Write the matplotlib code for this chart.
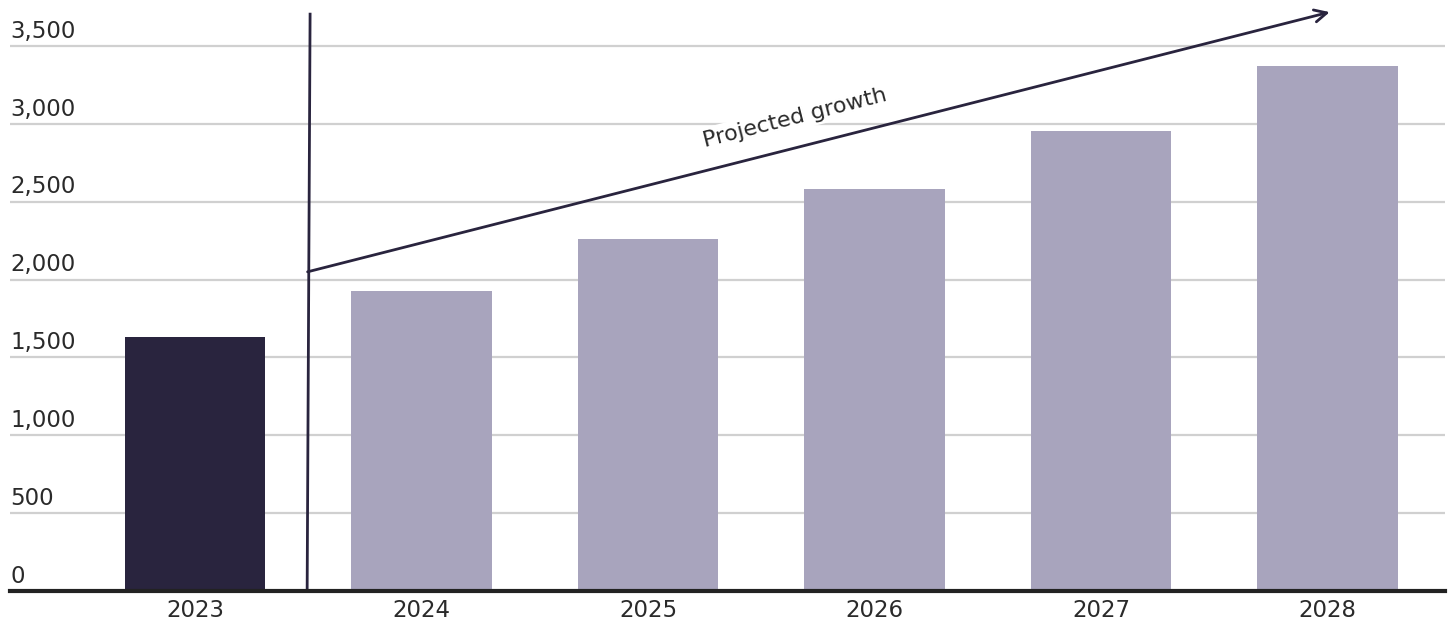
import numpy as np
import matplotlib
matplotlib.use("Agg")
from matplotlib import pyplot as plt

years = ["2023", "2024", "2025", "2026", "2027", "2028"]
values = [1630, 1925, 2260, 2580, 2955, 3370]
bar_colors = ["#29243e", "#a8a4bd", "#a8a4bd", "#a8a4bd", "#a8a4bd", "#a8a4bd"]
y_ticks = [0, 500, 1000, 1500, 2000, 2500, 3000, 3500]
y_labels = ["0", "500", "1,000", "1,500", "2,000", "2,500", "3,000", "3,500"]

# projection annotation (data coords)
divider_x = [0.495, 0.508]
divider_y = [0, 3705]
arrow_start = (0.497, 2050)
arrow_end = (5.01, 3718)
label_pos = (2.65, 3040)

plt.rcParams['font.family'] = ['DejaVu Sans']

fig = plt.figure(figsize=(14.52, 6.26), dpi=100)
ax = fig.add_axes([10 / 1452, 35 / 626, 1435 / 1452, 0.9327])

x = np.arange(len(years))
ax.bar(x, values, width=0.62, color=bar_colors, zorder=2)

ax.set_xlim(-0.817, 5.519)
ax.set_ylim(0, 3750)

for v in y_ticks[1:]:
    ax.axhline(v, color="#d0d0d0", lw=1.6, zorder=1)
for v, lab in zip(y_ticks, y_labels):
    ax.annotate(lab, xy=(0, v), xycoords=ax.get_yaxis_transform(),
                xytext=(0, 6), textcoords="offset points",
                ha="left", va="baseline", fontsize=16.5, color="#2a2a2a")

ax.set_yticks([])
ax.set_xticks(x)
ax.set_xticklabels(years, fontsize=16.5, color="#2a2a2a")
ax.tick_params(axis="x", length=0, pad=6)
for s in ["top", "right", "left"]:
    ax.spines[s].set_visible(False)
ax.spines["bottom"].set_linewidth(3)
ax.spines["bottom"].set_color("#222222")
ax.spines["bottom"].set_zorder(5)

ax.plot(divider_x, divider_y, color="#29243e", lw=2, zorder=4, clip_on=False)
ax.annotate("", xy=arrow_end, xytext=arrow_start,
            arrowprops=dict(arrowstyle="->", color="#29243e", lw=2,
                            mutation_scale=22, shrinkA=0, shrinkB=0),
            zorder=4, annotation_clip=False)
ax.text(label_pos[0], label_pos[1], "Projected growth", rotation=14.3,
        rotation_mode="anchor", ha="center", va="center", fontsize=16,
        color="#2a2a2a", zorder=3,
        bbox=dict(facecolor="white", edgecolor="none", pad=2))

fig.savefig("out.png", dpi=100)
